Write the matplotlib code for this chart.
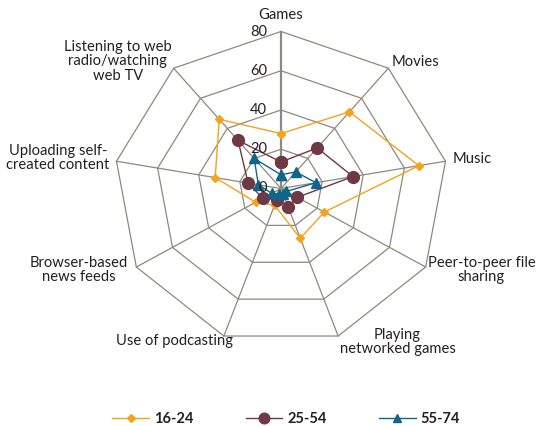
import numpy as np
import matplotlib.pyplot as plt
from matplotlib.lines import Line2D

plt.rcParams['font.family'] = ['Lato', 'DejaVu Sans']

# 데이터
categories = ['Games', 'Movies', 'Music', 'Peer-to-peer file\nsharing',
              'Playing\nnetworked games', 'Use of podcasting',
              'Browser-based\nnews feeds', 'Uploading self-\ncreated content',
              'Listening to web\nradio/watching\nweb TV']
age_16_24 = [28, 51, 67, 24, 27, 9, 14, 32, 46]
age_25_54 = [13.5, 27, 35, 9, 10, 6, 10, 16, 32]
age_55_74 = [7, 11, 17, 3, 3, 3, 5, 11, 20]
series_names = ['16-24', '25-54', '55-74']
ticks = [0, 20, 40, 60, 80]

colors = ['#F5A21C', '#6E3844', '#12658A']
markers = ['D', 'o', '^']
msizes = [4.5, 8.5, 6.5]
grid_color = '#8C8A7C'
text_color = '#231F20'

n = len(categories)
angles = np.pi / 2 - np.arange(n) * 2 * np.pi / n
xstretch = 1.064  # 원본은 가로로 살짝 늘어나 있음

def to_xy(vals):
    vals = np.asarray(vals, dtype=float)
    return vals * np.cos(angles) * xstretch, vals * np.sin(angles)

fig = plt.figure(figsize=(5.39, 4.26), dpi=100)
ax = fig.add_axes([0, 0, 1, 1])

# 픽셀 기준 중심 (281, 188.5), 80 단위 = 세로 157px
ppu = 157 / 80
ax.set_xlim(-281 / ppu, (539 - 281) / ppu)
ax.set_ylim(-(426 - 188.5) / ppu, 188.5 / ppu)
ax.axis('off')

# 다각형 격자
for t in ticks[1:]:
    gx, gy = to_xy([t] * n)
    ax.plot(np.append(gx, gx[0]), np.append(gy, gy[0]), color=grid_color, lw=0.9, zorder=1)
ex, ey = to_xy([ticks[-1]] * n)
for i in range(n):
    ax.plot([0, ex[i]], [0, ey[i]], color=grid_color, lw=1.6 if i == 0 else 0.9, zorder=1)

# 눈금 라벨
for t in ticks:
    ax.annotate(str(t), xy=(0, t), xytext=(-10, 0), textcoords='offset points',
                ha='right', va='center', fontsize=10.5, color=text_color, zorder=5)

# 카테고리 라벨
label_style = [
    ('center', (0, 12.2)),
    ('left', (2.2, 4.3)),
    ('left', (5, 1.4)),
    ('left', (1.4, -2.2)),
    ('left', (1, -4.3)),
    ('right', (6.8, -3.6)),
    ('right', (-6.1, -2.2)),
    ('right', (-5, 2.2)),
    ('right', (-1.4, 5)),
]
for i, (ha, off) in enumerate(label_style):
    ax.annotate(categories[i], xy=(ex[i], ey[i]), xytext=off, textcoords='offset points',
                ha=ha, va='center', multialignment='center', fontsize=10.6,
                color=text_color, linespacing=1.05)

# 계열
for vals, c, m, ms in zip([age_16_24, age_25_54, age_55_74], colors, markers, msizes):
    px, py = to_xy(vals)
    ax.plot(np.append(px, px[0]), np.append(py, py[0]), color=c, lw=1.0,
            marker=m, markersize=ms, zorder=3)

handles = [Line2D([], [], color=c, marker=m, markersize=ms * 0.9, lw=1.0)
           for c, m, ms in zip(colors, markers, msizes)]
leg = fig.legend(handles, series_names, loc='center', bbox_to_anchor=(0.531, 0.0164),
                 ncol=3, frameon=False, handlelength=2.5, handletextpad=0.35,
                 columnspacing=3.6, prop={'weight': 'bold', 'size': 10.5})
for txt in leg.get_texts():
    txt.set_color(text_color)

plt.savefig('out.png', dpi=100)
